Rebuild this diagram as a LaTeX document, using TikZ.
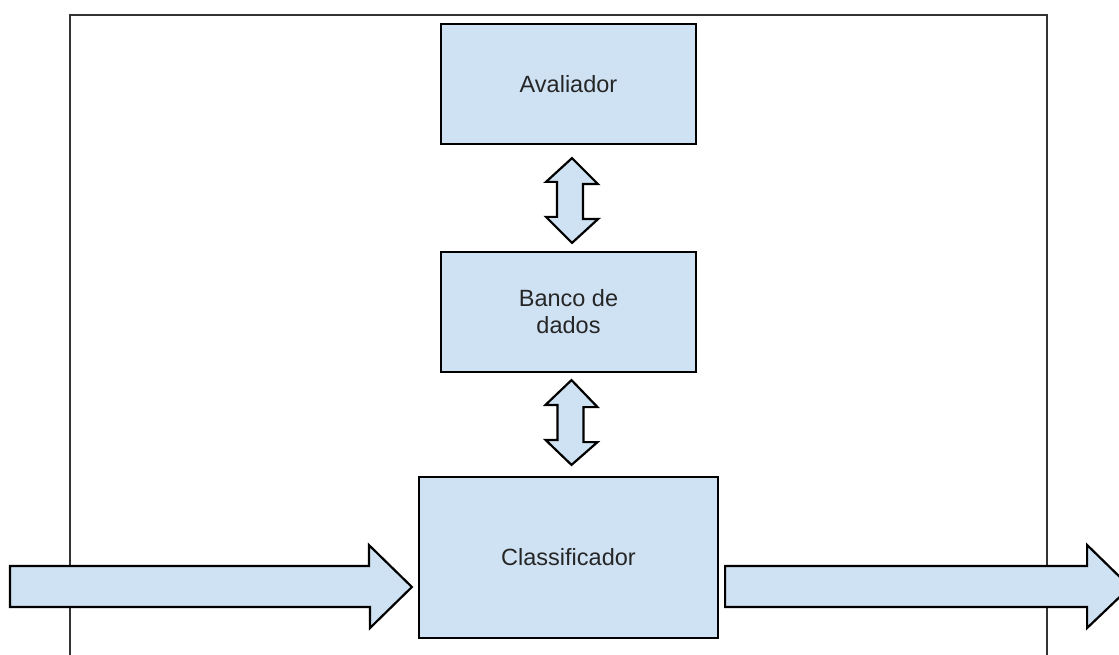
\documentclass[tikz,border=0pt]{standalone}
\usepackage{fontspec}
\setmainfont{Liberation Sans}
\usetikzlibrary{calc}
\begin{document}
\begin{tikzpicture}[x=1pt,y=-1pt,
  blockfill/.style={fill=boxblue,draw=black,line width=2.2pt,line join=miter},
  block/.style={blockfill,rectangle,inner sep=0pt,align=center,
    text=black!85,font=\fontsize{23.5}{27}\selectfont},
  frameline/.style={draw=black!80,line width=2.2pt}]
\definecolor{boxblue}{HTML}{CFE2F3}
\useasboundingbox (0,0) rectangle (1119,655);
\clip (0,0) rectangle (1119,655);

% outer frame, open at the bottom
\draw[frameline] (70,660) -- (70,15) -- (1047,15) -- (1047,660);

% blocks
\node[block,minimum width=255pt,minimum height=120pt] (aval) at (568.5,84) {Avaliador};
\node[block,minimum width=255pt,minimum height=120pt] (banco) at (568.5,312) {Banco de\\dados};
\node[block,minimum width=299pt,minimum height=161pt] (class) at (568.5,557.5) {Classificador};

% double arrows between the blocks
\draw[blockfill] ($(aval.south)+(3.5,13)$) coordinate (t1)
  -- ++(26,26) -- ++(-15,0) -- ++(0,35) -- ++(15,0)
  -- ($(banco.north)+(3.5,-8)$) coordinate (b1)
  -- ++(-26,-26) -- ++(11,0) -- ++(0,-35) -- ++(-11,0) -- cycle;
\draw[blockfill] ($(banco.south)+(3,7)$) coordinate (t2)
  -- ++(26,27) -- ++(-14,0) -- ++(0,35) -- ++(14,0)
  -- ($(class.north)+(3,-11)$) coordinate (b2)
  -- ++(-26,-25) -- ++(12,0) -- ++(0,-35) -- ++(-12,0) -- cycle;

% input arrow into the classifier
\coordinate (inL) at (10,587);
\draw[blockfill] ($(class.west)+(-6,29.5)$) coordinate (inTip)
  -- ++(-43,-42) -- ++(0,21) -- (inL |- 0,566) -- (inL |- 0,607)
  -- ++(360,0) -- ++(0,21) -- cycle;

% output arrow leaving the classifier
\draw[blockfill] ($(class.east)+(6,8.5)$) coordinate (outL)
  -- ++(362,0) -- ++(0,-21) -- ++(43,42) -- ++(-43,41) -- ++(0,-21)
  -- ++(-362,0) -- cycle;
\end{tikzpicture}
\end{document}
